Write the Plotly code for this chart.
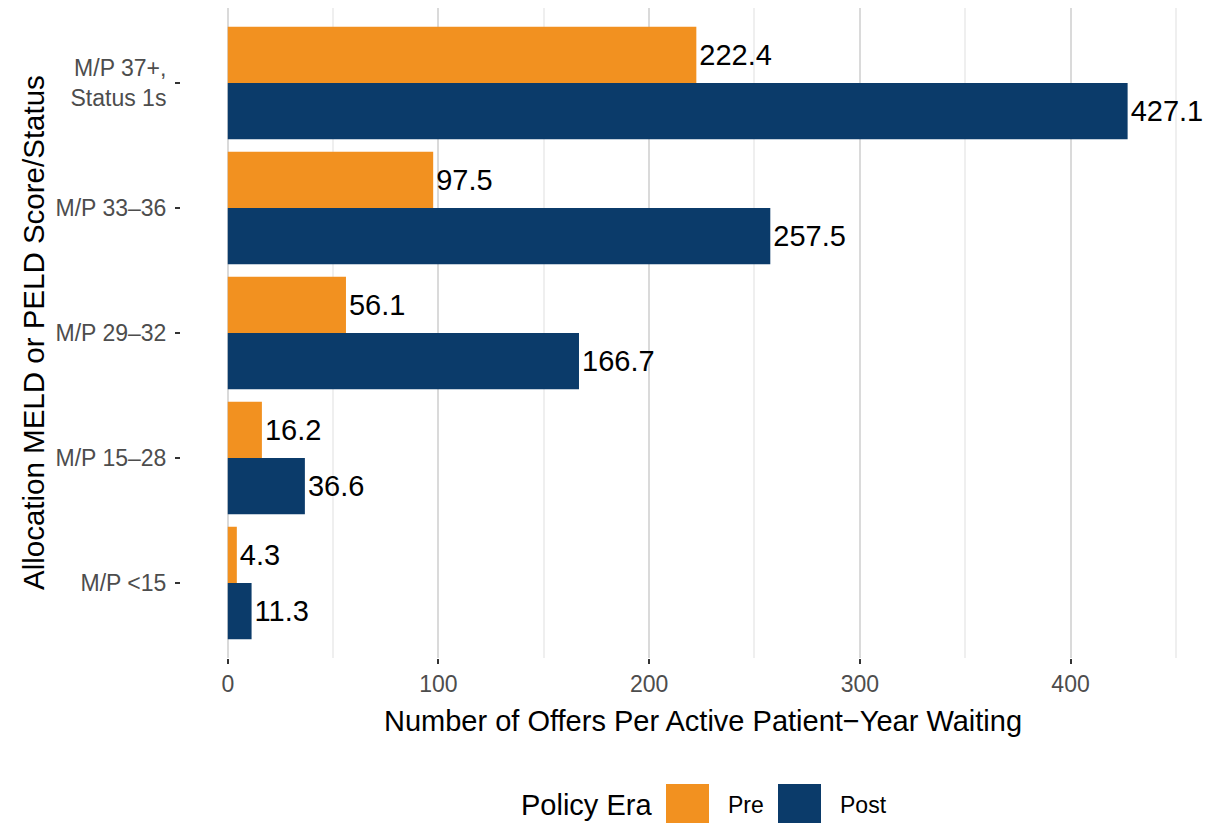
import plotly.graph_objects as go

categories = ["M/P 37+,<br>Status 1s", "M/P 33–36", "M/P 29–32", "M/P 15–28", "M/P <15"]
pre_values = [222.4, 97.5, 56.1, 16.2, 4.3]
post_values = [427.1, 257.5, 166.7, 36.6, 11.3]
era_names = ["Pre", "Post"]
era_colors = ["#F29120", "#0B3B6A"]

W, H = 1206, 823
L, R, T, B = 181, 0, 8, 165
PW, PH = W - L - R, H - T - B

def px_x(p):
    return (p - L) / PW

def px_y(p):
    return (H - B - p) / PH

FONT = "Liberation Sans, Arial, sans-serif"

fig = go.Figure()
for name, vals, col in zip(era_names, [pre_values, post_values], era_colors):
    fig.add_trace(go.Bar(
        y=categories, x=vals, name=name, orientation="h",
        marker=dict(color=col, line=dict(width=0)),
        text=[f"{v:.1f}" for v in vals], textposition="outside",
        textfont=dict(family=FONT, size=29, color="black"),
        constraintext="none", cliponaxis=False, showlegend=False,
    ))

fig.update_layout(
    width=W, height=H, barmode="group", bargap=0.1, bargroupgap=0,
    margin=dict(l=L, r=R, t=T, b=B),
    plot_bgcolor="white", paper_bgcolor="white",
    font=dict(family=FONT, color="black"),
    uniformtext=dict(mode=False),
)
fig.update_xaxes(
    range=[-22.2, 464.3], tickvals=[0, 100, 200, 300, 400],
    showgrid=True, gridcolor="#dadada", gridwidth=2,
    minor=dict(tickvals=[50, 150, 250, 350, 450], showgrid=True, gridcolor="#efefef", gridwidth=1.5, ticks=""),
    zeroline=False, showline=False,
    ticks="outside", ticklen=5, tickwidth=1.5, tickcolor="#333333",
    tickfont=dict(family=FONT, size=23, color="#4d4d4d"),
)
fig.update_yaxes(
    categoryorder="array", categoryarray=categories, range=[4.6, -0.6],
    showgrid=False, zeroline=False, showline=False,
    ticks="outside", ticklen=5, tickwidth=1.5, tickcolor="#333333",
    tickfont=dict(family=FONT, size=23, color="#4d4d4d"), ticklabelstandoff=4,
)

# axis titles
fig.add_annotation(text="Number of Offers Per Active Patient−Year Waiting", xref="paper", yref="paper",
                   x=px_x(703), y=px_y(721), xanchor="center", yanchor="middle", showarrow=False,
                   font=dict(family=FONT, size=29, color="black"))
fig.add_annotation(text="Allocation MELD or PELD Score/Status", xref="paper", yref="paper",
                   x=px_x(33), y=px_y(333), xanchor="center", yanchor="middle", showarrow=False,
                   textangle=-90, font=dict(family=FONT, size=29.5, color="black"))

# legend
fig.add_annotation(text="Policy Era", xref="paper", yref="paper", x=px_x(519), y=px_y(805),
                   xanchor="left", yanchor="middle", showarrow=False,
                   font=dict(family=FONT, size=29, color="black"))
key_x = [666, 778]
lab_x = [726, 838]
for name, col, kx, lx in zip(era_names, era_colors, key_x, lab_x):
    fig.add_shape(type="rect", xref="paper", yref="paper", x0=px_x(kx), x1=px_x(kx + 43),
                  y0=px_y(827), y1=px_y(784), fillcolor=col, line=dict(width=0))
    fig.add_annotation(text=name, xref="paper", yref="paper", x=px_x(lx), y=px_y(805),
                       xanchor="left", yanchor="middle", showarrow=False,
                       font=dict(family=FONT, size=23, color="black"))

fig.write_html("out.html", config={"displayModeBar": False},
               post_script="document.body.style.margin='0';document.body.style.overflow='hidden';")
